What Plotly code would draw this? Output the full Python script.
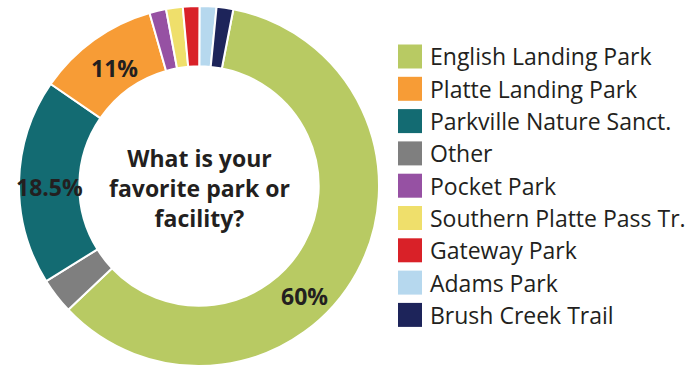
import plotly.graph_objects as go

# Slice order (clockwise from near 12 o'clock)
slice_labels = ["English Landing Park", "Other", "Parkville Nature Sanct.", "Platte Landing Park",
                "Pocket Park", "Southern Platte Pass Tr.", "Gateway Park", "Adams Park", "Brush Creek Trail"]
slice_values = [60, 3.2, 18.5, 11, 1.5, 1.5, 1.5, 1.5, 1.5]
slice_colors = ["#b8ca63", "#7f7f7f", "#136b72", "#f79c36", "#9651a3", "#efdf6b", "#d92128", "#b6d8ee", "#1d245a"]

# Legend order
legend_labels = ["English Landing Park", "Platte Landing Park", "Parkville Nature Sanct.", "Other",
                 "Pocket Park", "Southern Platte Pass Tr.", "Gateway Park", "Adams Park", "Brush Creek Trail"]

# Labelled values
shown_labels = ["English Landing Park", "Platte Landing Park", "Parkville Nature Sanct."]
shown_text = ["60%", "11%", "18.5%"]

W, H = 693, 368
color_of = dict(zip(slice_labels, slice_colors))

fig = go.Figure()
fig.add_trace(go.Pie(
    labels=slice_labels, values=slice_values, sort=False, direction="clockwise", rotation=11,
    hole=0.665, marker=dict(colors=slice_colors, line=dict(color="white", width=2)),
    textinfo="none", hoverinfo="label+percent", showlegend=False,
    domain=dict(x=[19 / W, 379 / W], y=[(H - 366) / H, (H - 6) / H]),
))

annotations = []
shapes = []
font_family = "'Open Sans', sans-serif"
text_color = "#231f20"

# center title
annotations.append(dict(
    x=200 / W, y=1 - 188 / H, xref="paper", yref="paper", showarrow=False,
    text="<b>What is your<br>favorite park or<br>facility?</b>",
    font=dict(family=font_family, size=23, color=text_color), align="center",
    xanchor="center", yanchor="middle",
))

# percent labels
label_pos = {"English Landing Park": (304, 296), "Platte Landing Park": (114, 68),
             "Parkville Nature Sanct.": (50, 187)}
for lab, txt in zip(shown_labels, shown_text):
    px, py = label_pos[lab]
    annotations.append(dict(
        x=px / W, y=1 - py / H, xref="paper", yref="paper", showarrow=False,
        text=f"<b>{txt}</b>", font=dict(family=font_family, size=23, color=text_color),
        xanchor="center", yanchor="middle",
    ))

# manual legend
for i, lab in enumerate(legend_labels):
    cy = 56.5 + i * 32.3
    shapes.append(dict(
        type="rect", xref="paper", yref="paper",
        x0=398 / W, x1=422 / W, y0=1 - (cy + 12) / H, y1=1 - (cy - 12) / H,
        fillcolor=color_of[lab], line=dict(width=0),
    ))
    annotations.append(dict(
        x=428 / W, y=1 - cy / H, xref="paper", yref="paper", showarrow=False,
        text=lab, font=dict(family=font_family, size=23, color=text_color),
        xanchor="left", yanchor="middle",
    ))

fig.update_layout(
    width=W, height=H, margin=dict(l=0, r=0, t=0, b=0),
    paper_bgcolor="white", plot_bgcolor="white",
    annotations=annotations, shapes=shapes, showlegend=False,
)

fig.write_html("out.html")
